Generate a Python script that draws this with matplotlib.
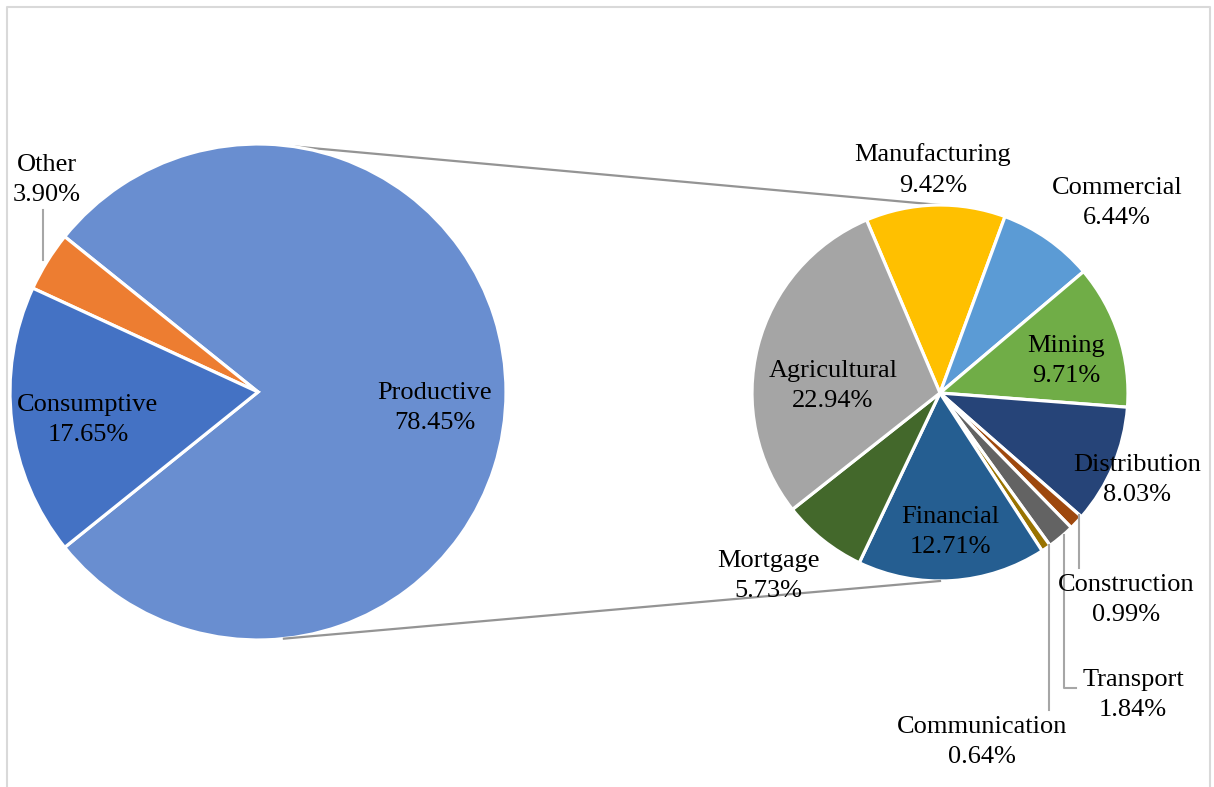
import numpy as np
import matplotlib
matplotlib.use('Agg')
import matplotlib.pyplot as plt

plt.rcParams['font.family'] = ['Liberation Serif', 'DejaVu Serif']

# main split of loans
main_names = ['Productive', 'Other', 'Consumptive']
main_values = [78.45, 3.90, 17.65]
main_colors = ['#698ED0', '#ED7D31', '#4472C4']

# breakdown of the productive part (percent of total)
sub_names = ['Manufacturing', 'Commercial', 'Mining', 'Distribution', 'Construction',
             'Transport', 'Communication', 'Financial', 'Mortgage', 'Agricultural']
sub_values = [9.42, 6.44, 9.71, 8.03, 0.99, 1.84, 0.64, 12.71, 5.73, 22.94]
sub_colors = ['#FFC000', '#5B9BD5', '#70AD47', '#264478', '#9E480E',
              '#636363', '#997300', '#255E91', '#43682B', '#A5A5A5']

W, H = 1214, 787
def Y(p):
    return H - p

fig = plt.figure(figsize=(W / 100, H / 100), dpi=100)
ax = fig.add_axes([0, 0, 1, 1])

c1, r1 = (258, Y(392)), 248
c2, r2 = (940, Y(393)), 188

wp = dict(edgecolor='white', linewidth=2.3)
ax.pie(main_values, colors=main_colors, center=c1, radius=r1,
       startangle=-main_values[0] / 100 * 180, counterclock=True, wedgeprops=wp)
ax.pie(sub_values, colors=sub_colors, center=c2, radius=r2,
       startangle=113, counterclock=False, wedgeprops=wp)

# connector lines between the two pies
a_top, a_bot = np.deg2rad(82.5), np.deg2rad(-84)
ax.plot([c1[0] + r1 * np.cos(a_top), c2[0]], [c1[1] + r1 * np.sin(a_top), c2[1] + r2],
        color='#949494', lw=1.6, zorder=0)
ax.plot([c1[0] + r1 * np.cos(a_bot), c2[0]], [c1[1] + r1 * np.sin(a_bot), c2[1] - r2],
        color='#949494', lw=1.6, zorder=3)

# label placement (pixel positions)
label_pos = {
    'Productive': (435, 408), 'Other': (47, 180), 'Consumptive': (88, 420),
    'Manufacturing': (933, 170), 'Commercial': (1117, 203), 'Mining': (1066, 361),
    'Distribution': (1137, 480), 'Construction': (1126, 600), 'Transport': (1133, 695),
    'Communication': (982, 742), 'Financial': (950, 532), 'Mortgage': (768, 576),
    'Agricultural': (833, 386),
}
for name, val in zip(main_names + sub_names, main_values + sub_values):
    x, y = label_pos[name]
    ax.text(x, Y(y), '%s\n%.2f%%' % (name, val), ha='center', va='center',
            fontsize=19, linespacing=1.5, color='black', zorder=5)

# leader lines for the thin slices
lc = dict(color='#A6A6A6', lw=1.5, zorder=4)
ax.plot([43, 43], [Y(210), Y(260)], **lc)
ax.plot([1079, 1079], [Y(515), Y(568)], **lc)
ax.plot([1064, 1064, 1076], [Y(535), Y(688), Y(688)], **lc)
ax.plot([1049, 1049], [Y(545), Y(710)], **lc)

# chart area border
ax.plot([7, 7, 1210, 1210], [Y(800), Y(7), Y(7), Y(800)], color='#D9D9D9', lw=1.5, zorder=6)

ax.set_xlim(0, W)
ax.set_ylim(0, H)
ax.set_aspect('auto')
ax.axis('off')

fig.savefig('out.png', dpi=100, facecolor='white')
